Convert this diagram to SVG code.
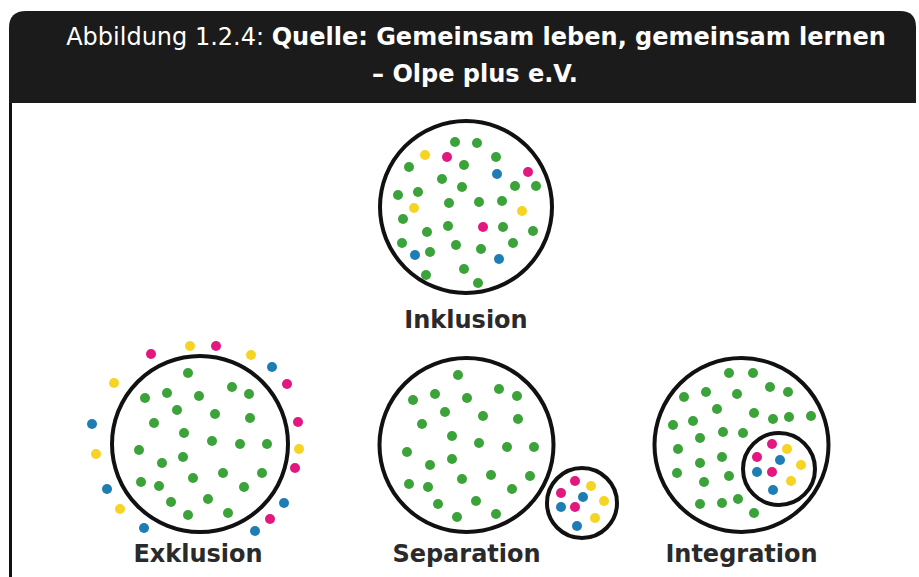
<svg xmlns="http://www.w3.org/2000/svg" width="919" height="577" viewBox="0 0 919 577">
  <style>
    .hdr { font-family: "DejaVu Sans", Verdana, sans-serif; font-size: 24px; fill: #ffffff; }
    .lbl { font-family: "DejaVu Sans", Verdana, sans-serif; font-size: 24px; font-weight: bold; fill: #2a2a2a; text-anchor: middle; }
    .ring { fill: none; stroke: #111111; stroke-width: 4; }
    .g { fill: #3ca23a; }
    .y { fill: #f5d424; }
    .m { fill: #e2177f; }
    .b { fill: #1e7db3; }
  </style>

  <rect x="0" y="0" width="919" height="577" fill="#ffffff"/>

  <!-- caption bar -->
  <g id="header">
    <path d="M9,103 V28 Q9,11 26,11 H900 Q916,11 916,27 V103 Z" fill="#1b1b1b"/>
    <text class="hdr" x="476" y="45" text-anchor="middle">Abbildung 1.2.4: <tspan font-weight="bold">Quelle: Gemeinsam leben, gemeinsam lernen</tspan></text>
    <text class="hdr" x="475" y="82" text-anchor="middle" font-weight="bold">– Olpe plus e.V.</text>
  </g>

  <!-- frame edge of the content area -->
  <line x1="10.5" y1="103" x2="10.5" y2="577" stroke="#111111" stroke-width="3"/>

  <g id="connectors"/>

  <!-- Inklusion -->
  <g id="inklusion">
    <circle class="ring" cx="466" cy="207" r="86"/>
    <g>
      <circle class="g" cx="455" cy="142" r="5"/>
      <circle class="g" cx="477" cy="143" r="5"/>
      <circle class="y" cx="425" cy="155" r="5"/>
      <circle class="m" cx="447" cy="157" r="5"/>
      <circle class="g" cx="496" cy="157" r="5"/>
      <circle class="g" cx="409" cy="167" r="5"/>
      <circle class="g" cx="464" cy="165" r="5"/>
      <circle class="b" cx="497" cy="174" r="5"/>
      <circle class="m" cx="528" cy="172" r="5"/>
      <circle class="g" cx="442" cy="179" r="5"/>
      <circle class="g" cx="462" cy="187" r="5"/>
      <circle class="g" cx="515" cy="186" r="5"/>
      <circle class="g" cx="536" cy="186" r="5"/>
      <circle class="g" cx="398" cy="195" r="5"/>
      <circle class="g" cx="418" cy="192" r="5"/>
      <circle class="y" cx="414" cy="208" r="5"/>
      <circle class="g" cx="449" cy="203" r="5"/>
      <circle class="g" cx="479" cy="202" r="5"/>
      <circle class="g" cx="502" cy="201" r="5"/>
      <circle class="y" cx="522" cy="211" r="5"/>
      <circle class="g" cx="403" cy="219" r="5"/>
      <circle class="g" cx="448" cy="226" r="5"/>
      <circle class="m" cx="483" cy="227" r="5"/>
      <circle class="g" cx="503" cy="227" r="5"/>
      <circle class="g" cx="533" cy="231" r="5"/>
      <circle class="g" cx="427" cy="232" r="5"/>
      <circle class="g" cx="402" cy="243" r="5"/>
      <circle class="g" cx="513" cy="243" r="5"/>
      <circle class="b" cx="415" cy="255" r="5"/>
      <circle class="g" cx="430" cy="252" r="5"/>
      <circle class="g" cx="456" cy="245" r="5"/>
      <circle class="g" cx="481" cy="249" r="5"/>
      <circle class="b" cx="499" cy="259" r="5"/>
      <circle class="g" cx="464" cy="269" r="5"/>
      <circle class="g" cx="426" cy="275" r="5"/>
      <circle class="g" cx="478" cy="283" r="5"/>
    </g>
    <text class="lbl" x="466" y="328">Inklusion</text>
  </g>

  <!-- Exklusion -->
  <g id="exklusion">
    <circle class="ring" cx="200" cy="444" r="88"/>
    <g>
      <circle class="m" cx="151" cy="354" r="5"/>
      <circle class="y" cx="190" cy="346" r="5"/>
      <circle class="m" cx="216" cy="346" r="5"/>
      <circle class="y" cx="251" cy="355" r="5"/>
      <circle class="b" cx="272" cy="367" r="5"/>
      <circle class="y" cx="114" cy="383" r="5"/>
      <circle class="m" cx="287" cy="384" r="5"/>
      <circle class="b" cx="92" cy="424" r="5"/>
      <circle class="m" cx="298" cy="422" r="5"/>
      <circle class="y" cx="96" cy="454" r="5"/>
      <circle class="y" cx="299" cy="449" r="5"/>
      <circle class="m" cx="295" cy="468" r="5"/>
      <circle class="b" cx="107" cy="489" r="5"/>
      <circle class="b" cx="284" cy="503" r="5"/>
      <circle class="y" cx="120" cy="509" r="5"/>
      <circle class="m" cx="270" cy="519" r="5"/>
      <circle class="b" cx="144" cy="528" r="5"/>
      <circle class="b" cx="255" cy="531" r="5"/>
    </g>
    <g>
      <circle class="g" cx="188" cy="373" r="5"/>
      <circle class="g" cx="145" cy="398" r="5"/>
      <circle class="g" cx="167" cy="393" r="5"/>
      <circle class="g" cx="199" cy="396" r="5"/>
      <circle class="g" cx="232" cy="387" r="5"/>
      <circle class="g" cx="249" cy="394" r="5"/>
      <circle class="g" cx="177" cy="410" r="5"/>
      <circle class="g" cx="215" cy="414" r="5"/>
      <circle class="g" cx="250" cy="418" r="5"/>
      <circle class="g" cx="154" cy="423" r="5"/>
      <circle class="g" cx="184" cy="433" r="5"/>
      <circle class="g" cx="212" cy="441" r="5"/>
      <circle class="g" cx="240" cy="444" r="5"/>
      <circle class="g" cx="267" cy="444" r="5"/>
      <circle class="g" cx="139" cy="450" r="5"/>
      <circle class="g" cx="183" cy="457" r="5"/>
      <circle class="g" cx="162" cy="463" r="5"/>
      <circle class="g" cx="141" cy="482" r="5"/>
      <circle class="g" cx="159" cy="486" r="5"/>
      <circle class="g" cx="193" cy="478" r="5"/>
      <circle class="g" cx="223" cy="473" r="5"/>
      <circle class="g" cx="262" cy="473" r="5"/>
      <circle class="g" cx="244" cy="487" r="5"/>
      <circle class="g" cx="171" cy="502" r="5"/>
      <circle class="g" cx="208" cy="499" r="5"/>
      <circle class="g" cx="188" cy="515" r="5"/>
      <circle class="g" cx="228" cy="513" r="5"/>
    </g>
    <text class="lbl" x="198" y="562">Exklusion</text>
  </g>

  <!-- Separation -->
  <g id="separation">
    <circle class="ring" cx="466.5" cy="445" r="87"/>
    <circle class="ring" cx="582" cy="503" r="35"/>
    <g>
      <circle class="g" cx="458" cy="375" r="5"/>
      <circle class="g" cx="499" cy="389" r="5"/>
      <circle class="g" cx="517" cy="396" r="5"/>
      <circle class="g" cx="413" cy="400" r="5"/>
      <circle class="g" cx="435" cy="394" r="5"/>
      <circle class="g" cx="467" cy="398" r="5"/>
      <circle class="g" cx="445" cy="412" r="5"/>
      <circle class="g" cx="483" cy="416" r="5"/>
      <circle class="g" cx="518" cy="419" r="5"/>
      <circle class="g" cx="422" cy="424" r="5"/>
      <circle class="g" cx="452" cy="436" r="5"/>
      <circle class="g" cx="479" cy="443" r="5"/>
      <circle class="g" cx="507" cy="447" r="5"/>
      <circle class="g" cx="534" cy="447" r="5"/>
      <circle class="g" cx="407" cy="452" r="5"/>
      <circle class="g" cx="452" cy="459" r="5"/>
      <circle class="g" cx="430" cy="465" r="5"/>
      <circle class="g" cx="462" cy="479" r="5"/>
      <circle class="g" cx="491" cy="475" r="5"/>
      <circle class="g" cx="530" cy="476" r="5"/>
      <circle class="g" cx="409" cy="484" r="5"/>
      <circle class="g" cx="428" cy="487" r="5"/>
      <circle class="g" cx="512" cy="489" r="5"/>
      <circle class="g" cx="438" cy="504" r="5"/>
      <circle class="g" cx="476" cy="501" r="5"/>
      <circle class="g" cx="457" cy="517" r="5"/>
      <circle class="g" cx="496" cy="514" r="5"/>
    </g>
    <g>
      <circle class="m" cx="575" cy="481" r="5"/>
      <circle class="y" cx="591" cy="486" r="5"/>
      <circle class="m" cx="561" cy="493" r="5"/>
      <circle class="b" cx="583" cy="497" r="5"/>
      <circle class="y" cx="604" cy="501" r="5"/>
      <circle class="b" cx="561" cy="507" r="5"/>
      <circle class="m" cx="575" cy="507" r="5"/>
      <circle class="y" cx="595" cy="518" r="5"/>
      <circle class="b" cx="577" cy="526" r="5"/>
    </g>
    <text class="lbl" x="466.5" y="562">Separation</text>
  </g>

  <!-- Integration -->
  <g id="integration">
    <circle class="ring" cx="741.5" cy="445" r="87"/>
    <circle class="ring" cx="779" cy="469" r="36"/>
    <g>
      <circle class="g" cx="729" cy="373" r="5"/>
      <circle class="g" cx="753" cy="373" r="5"/>
      <circle class="g" cx="770" cy="387" r="5"/>
      <circle class="g" cx="788" cy="392" r="5"/>
      <circle class="g" cx="684" cy="397" r="5"/>
      <circle class="g" cx="706" cy="392" r="5"/>
      <circle class="g" cx="737" cy="394" r="5"/>
      <circle class="g" cx="717" cy="409" r="5"/>
      <circle class="g" cx="754" cy="413" r="5"/>
      <circle class="g" cx="773" cy="419" r="5"/>
      <circle class="g" cx="789" cy="417" r="5"/>
      <circle class="g" cx="811" cy="416" r="5"/>
      <circle class="g" cx="673" cy="425" r="5"/>
      <circle class="g" cx="693" cy="421" r="5"/>
      <circle class="g" cx="700" cy="438" r="5"/>
      <circle class="g" cx="723" cy="432" r="5"/>
      <circle class="g" cx="743" cy="433" r="5"/>
      <circle class="g" cx="678" cy="449" r="5"/>
      <circle class="g" cx="722" cy="457" r="5"/>
      <circle class="g" cx="700" cy="463" r="5"/>
      <circle class="g" cx="677" cy="473" r="5"/>
      <circle class="g" cx="729" cy="476" r="5"/>
      <circle class="g" cx="704" cy="482" r="5"/>
      <circle class="g" cx="700" cy="504" r="5"/>
      <circle class="g" cx="722" cy="503" r="5"/>
      <circle class="g" cx="738" cy="499" r="5"/>
      <circle class="g" cx="754" cy="513" r="5"/>
    </g>
    <g>
      <circle class="m" cx="772" cy="444" r="5"/>
      <circle class="y" cx="787" cy="449" r="5"/>
      <circle class="m" cx="757" cy="457" r="5"/>
      <circle class="b" cx="780" cy="460" r="5"/>
      <circle class="y" cx="801" cy="465" r="5"/>
      <circle class="b" cx="757" cy="472" r="5"/>
      <circle class="m" cx="772" cy="472" r="5"/>
      <circle class="y" cx="791" cy="481" r="5"/>
      <circle class="b" cx="773" cy="490" r="5"/>
    </g>
    <text class="lbl" x="741.5" y="562">Integration</text>
  </g>
</svg>
